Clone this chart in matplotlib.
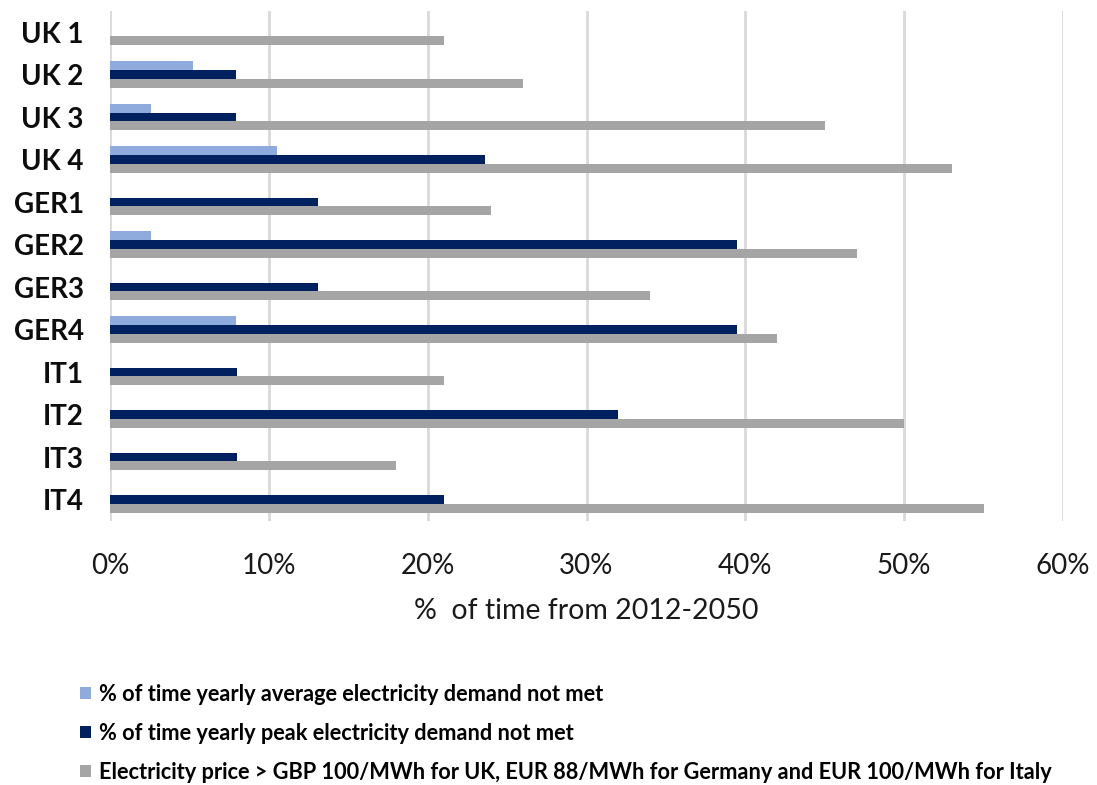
import matplotlib
matplotlib.use("Agg")
import matplotlib.pyplot as plt
from matplotlib.patches import Patch
import numpy as np

# Scenario names (top to bottom)
scenarios = ["UK 1", "UK 2", "UK 3", "UK 4", "GER1", "GER2", "GER3", "GER4",
             "IT1", "IT2", "IT3", "IT4"]

# Percent of time over 2012-2050
avg_not_met = [0, 5.2, 2.6, 10.5, 0, 2.6, 0, 7.9, 0, 0, 0, 0]
peak_not_met = [0, 7.9, 7.9, 23.6, 13.1, 39.5, 13.1, 39.5, 8.0, 32.0, 8.0, 21.0]
high_price = [21, 26, 45, 53, 24, 47, 34, 42, 21, 50, 18, 55]

series_labels = [
    "% of time yearly average electricity demand not met",
    "% of time yearly peak electricity demand not met",
    "Electricity price > GBP 100/MWh for UK, EUR 88/MWh for Germany and EUR 100/MWh for Italy",
]
x_ticks = [0, 10, 20, 30, 40, 50, 60]
x_label = "%  of time from 2012-2050"

colors = ["#8FAADC", "#002060", "#A5A5A5"]

plt.rcParams["font.family"] = ["Lato", "DejaVu Sans"]

fig = plt.figure(figsize=(10.97, 7.85), dpi=100)
ax = fig.add_axes([0.1003, 0.3366, 0.8687, 0.6497])

y = np.arange(len(scenarios))
h = 0.205
for offset, vals, col in zip((-h, 0, h), (avg_not_met, peak_not_met, high_price), colors):
    ax.barh(y + offset, vals, height=h, color=col, edgecolor="none", zorder=3)

ax.set_ylim(len(scenarios) - 0.5, -0.5)
ax.set_xlim(0, 60)
ax.set_xticks(x_ticks)
ax.set_xticklabels([f"{t}%" for t in x_ticks], fontsize=20, color="#1a1a1a")
ax.set_yticks(y)
ax.set_yticklabels(scenarios, fontsize=20, fontweight="bold", color="#0d0d0d")
ax.tick_params(axis="both", length=0)
ax.tick_params(axis="y", pad=19)
ax.tick_params(axis="x", pad=23)
ax.xaxis.grid(True, color="#D9D9D9", linewidth=2, zorder=0)
for s in ax.spines.values():
    s.set_visible(False)
ax.set_xlabel(x_label, fontsize=20.5, color="#1a1a1a", labelpad=14)

handles = [Patch(facecolor=c, edgecolor="none") for c in colors]
fig.legend(handles, series_labels, loc="upper left",
           bbox_to_anchor=(0.073, 1 - 684 / 785),
           bbox_transform=fig.transFigure, frameon=False,
           prop={"family": ["Lato", "DejaVu Sans"], "size": 15.7, "weight": "bold"},
           handlelength=0.5, handleheight=0.5, handletextpad=0.35,
           labelspacing=0.82, borderpad=0, borderaxespad=0)

fig.savefig("out.png", dpi=100)
